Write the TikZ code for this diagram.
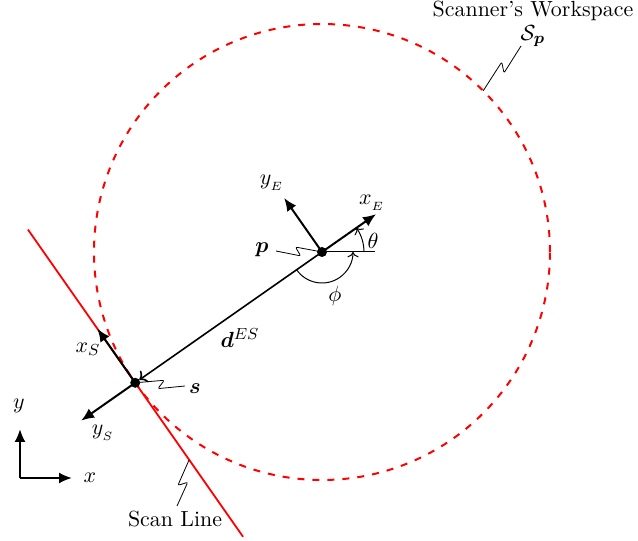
\documentclass[tikz,border=0pt,11pt]{standalone}
\usepackage{amsmath,bm}
\usetikzlibrary{arrows.meta,calc}
\tikzset{
  ws/.style={red, line width=1pt, dash pattern=on 3.5pt off 4pt},
  scan/.style={red, line width=0.9pt},
  axis/.style={line width=1pt, -{Latex[length=6.5pt,width=5.5pt]}},
  dvec/.style={line width=0.8pt, ->, shorten >=2.5pt},
  angarc/.style={line width=0.5pt, ->},
  squig/.style={line width=0.4pt, rounded corners=1pt, to path={--
     ($(\tikztostart)!0.54!(\tikztotarget)!2.2pt!#1:(\tikztotarget)$) --
     ($(\tikztostart)!0.42!(\tikztotarget)!2.2pt!-#1:(\tikztotarget)$) --
     (\tikztotarget)}},
  squig/.default=-90,
  lbl/.style={inner sep=1pt},
}
\begin{document}
\begin{tikzpicture}[x=0.5pt,y=0.5pt]
\useasboundingbox (0,0) rectangle (638,541);
% key points
\coordinate (p) at (322,289);
\coordinate (s) at ($(p)+(215:228)$);
\coordinate (wsp) at ($(p)+(45:228)$);
\coordinate (slA) at ($(s)+(125:187)$);
\coordinate (slB) at ($(s)+(-55:188)$);
\coordinate (slM) at ($(s)+(-55:94)$);
% workspace circle and scan line
\draw[ws] (p) circle[radius=228];
\draw[scan] (slA) -- (slB);
% end-effector frame
\coordinate (xE) at ($(p)+(35:66)$);
\coordinate (yE) at ($(p)+(125:66)$);
\draw[axis] (p) -- (xE);
\draw[axis] (p) -- (yE);
\node[lbl] (lxE) at (372,338) {$x_{_E}$};
\node[lbl] (lyE) at (272,358) {$y_{_E}$};
% angles
\coordinate (hz) at ($(p)+(53,0)$);
\draw[line width=0.5pt] (p) -- (hz);
\draw[angarc] ($(p)+(0:42)$) arc[start angle=0,end angle=35,radius=42];
\node[lbl] (lth) at (373,300) {$\theta$};
\draw[angarc] ($(p)+(215:31)$) arc[start angle=215,end angle=360,radius=31];
\node[lbl] (lphi) at (335,245) {$\phi$};
% vector d
\draw[dvec] (p) -- (s);
\node[lbl] (ld) at (240,203) {$\bm{d}^{ES}$};
% sensor frame
\coordinate (xS) at ($(s)+(125:66)$);
\coordinate (yS) at ($(s)+(215:66)$);
\draw[axis] (s) -- (xS);
\draw[axis] (s) -- (yS);
\node[lbl] (lxS) at (88,192) {$x_S$};
\node[lbl] (lyS) at (103,108) {$y_{_S}$};
% dots
\fill (p) circle[radius=5];
\fill (s) circle[radius=5];
% labels with squiggles
\node[lbl] (lp) at (262,291) {$\bm{p}$};
\coordinate (lpe) at (276,290);
\draw (lpe) to[squig=-90] (p);
\node[lbl] (ls) at (195,152) {$\bm{s}$};
\coordinate (lse) at (185,155);
\draw (lse) to[squig=90] (s);
\node[lbl] (lws) at (533,530) {Scanner's Workspace};
\node[lbl] (lsp) at (533,505) {$\mathcal{S}_{\bm{p}}$};
\coordinate (lspe) at (521,495);
\draw (lspe) to[squig=90] (wsp);
\node[lbl] (lsl) at (175,22) {Scan Line};
\coordinate (lsle) at (177,35);
\draw (lsle) to[squig=-90] (slM);
% world frame
\coordinate (o) at (20,63);
\coordinate (ox) at (72,63);
\coordinate (oy) at (20,112);
\draw[axis] (o) -- (ox);
\draw[axis] (o) -- (oy);
\node[lbl] (lx) at (90,63) {$x$};
\node[lbl] (ly) at (19,135) {$y$};
\end{tikzpicture}
\end{document}
